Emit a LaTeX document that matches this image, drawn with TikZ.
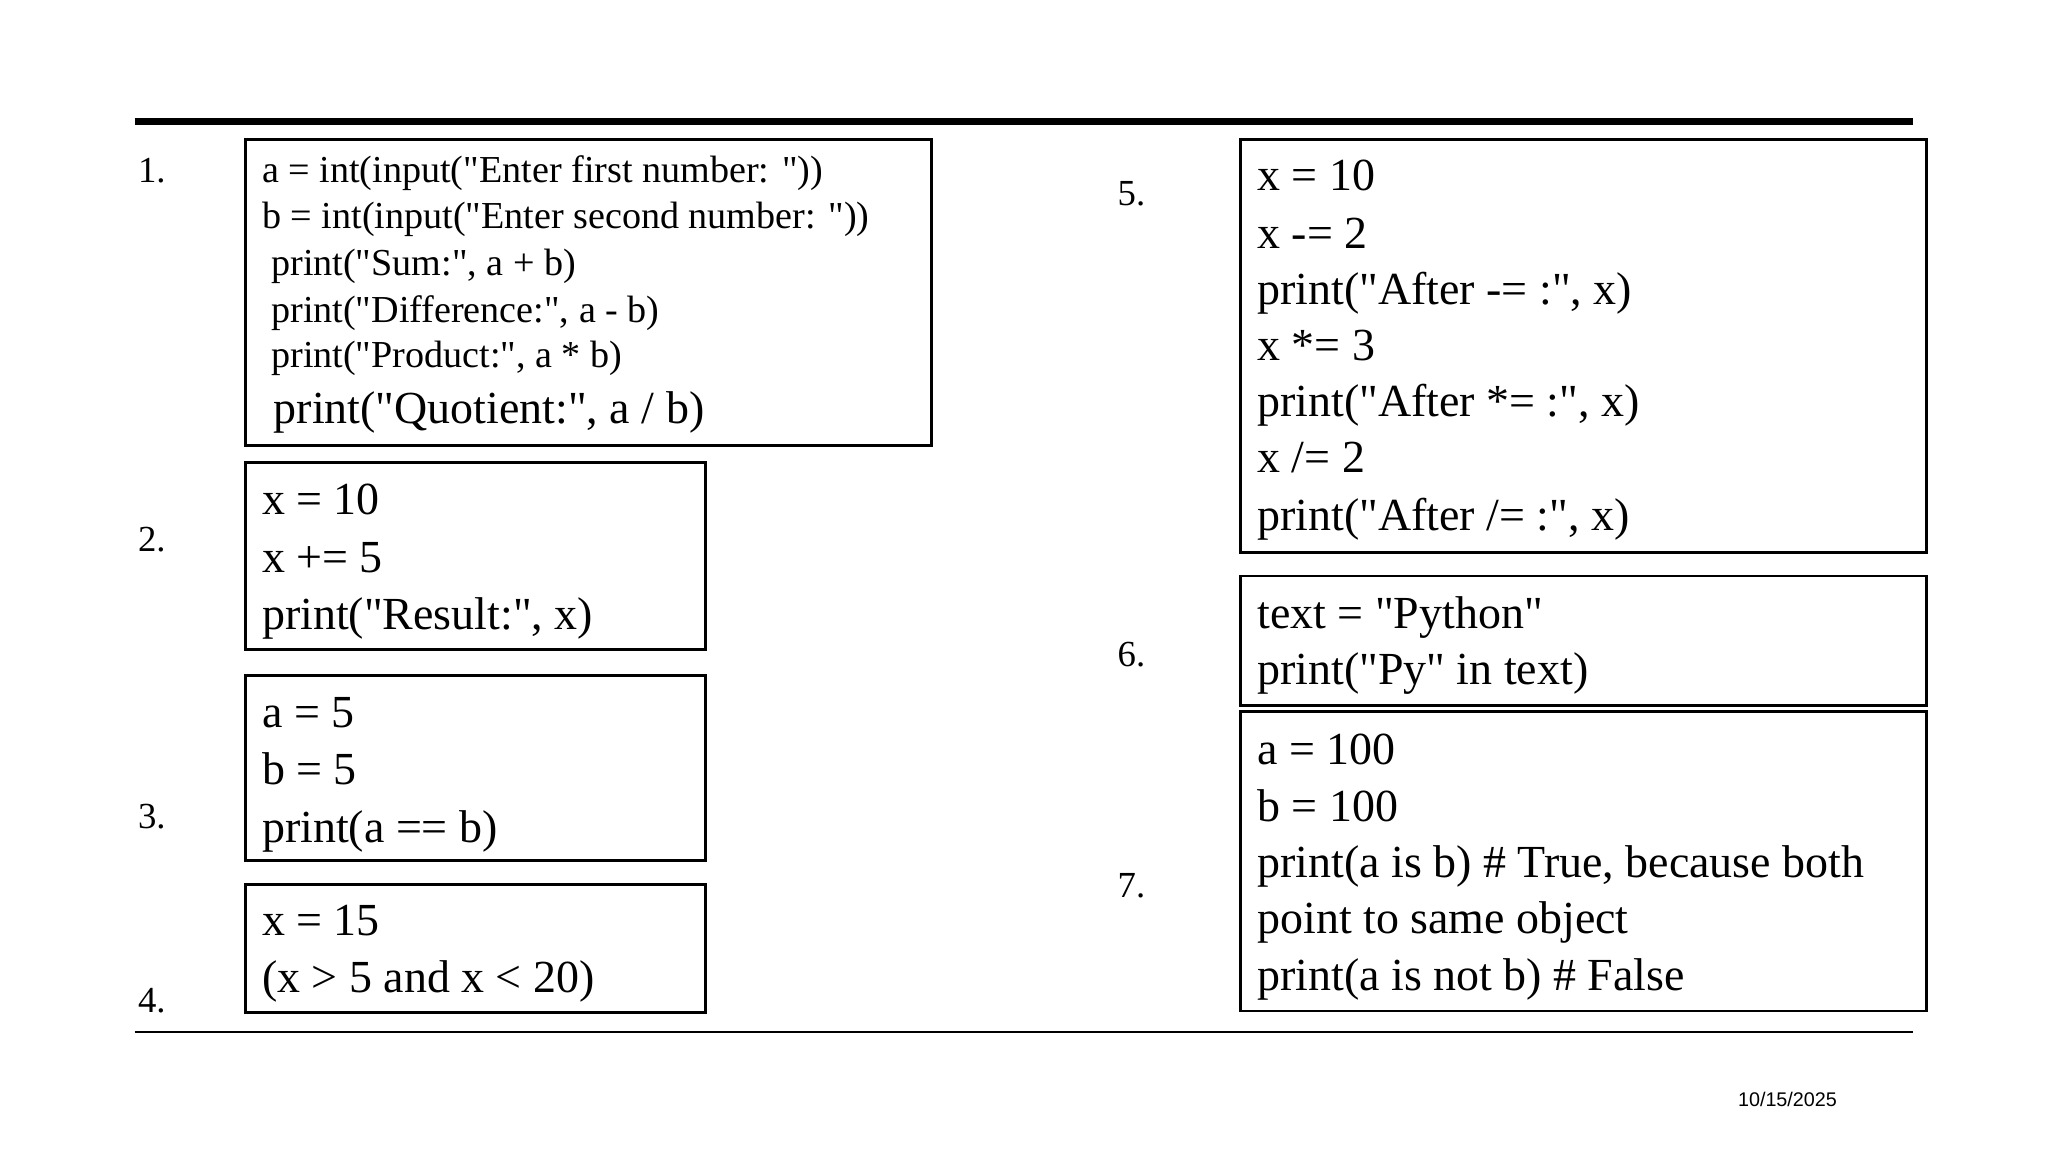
\documentclass[tikz,border=0pt]{standalone}
\usepackage{fontspec}
\setmainfont{Liberation Serif}[Ligatures=TeXOff]
\newfontfamily\datefont{Liberation Sans}
\begin{document}
\begin{tikzpicture}[x=0.01cm,y=-0.01cm,
  box/.style={draw,line width=0.6pt},
  big/.style={anchor=base west,inner sep=0,font=\fontsize{10}{12}\selectfont},
  sml/.style={anchor=base west,inner sep=0,font=\fontsize{8.3}{10}\selectfont},
  num/.style={anchor=base west,inner sep=0,font=\fontsize{8}{10}\selectfont}]
\useasboundingbox (0,0) rectangle (1568,882);
\draw[line width=1.4pt] (103,93) -- (1465,93);
\draw[line width=0.5pt] (103,790) -- (1465,790);
\draw[box] (188,107) rectangle (713,341);
\draw[box] (188,354) rectangle (540,497);
\draw[box] (188,517) rectangle (540,659);
\draw[box] (188,677) rectangle (540,775);
\draw[box] (950,107) rectangle (1475,423);
\draw[box] (950,441) rectangle (1475,540);
\draw[box] (950,545) rectangle (1475,774);
\node[num] (n1) at (105,140) {1.};
\node[num] (n2) at (105,422) {2.};
\node[num] (n3) at (105,634) {3.};
\node[num] (n4) at (105,775) {4.};
\node[num] (n5) at (855,157) {5.};
\node[num] (n6) at (855,510) {6.};
\node[num] (n7) at (855,687) {7.};
\node[sml] (l11) at (200,140) {a = int(input("Enter first number: "))};
\node[sml] (l12) at (200,175) {b = int(input("Enter second number: "))};
\node[sml] (l13) at (207,211) {print("Sum:", a + b)};
\node[sml] (l14) at (207,247) {print("Difference:", a - b)};
\node[sml] (l15) at (207,281) {print("Product:", a * b)};
\node[big] (l16) at (209,324) {print("Quotient:", a / b)};
\node[big] (l21) at (200,394) {x = 10};
\node[big] (l22) at (200,438) {x += 5};
\node[big] (l23) at (200,482) {print("Result:", x)};
\node[big] (l31) at (200,557) {a = 5};
\node[big] (l32) at (200,601) {b = 5};
\node[big] (l33) at (200,645) {print(a == b)};
\node[big] (l41) at (200,716) {x = 15};
\node[big] (l42) at (200,760) {(x > 5 and x < 20)};
\node[big] (l51) at (962,146) {x = 10};
\node[big] (l52) at (962,190) {x -= 2};
\node[big] (l53) at (962,233) {print("After -= :", x)};
\node[big] (l54) at (962,276) {x *= 3};
\node[big] (l55) at (962,319) {print("After *= :", x)};
\node[big] (l56) at (962,362) {x /= 2};
\node[big] (l57) at (962,406) {print("After /= :", x)};
\node[big] (l61) at (962,481) {text = "Python"};
\node[big] (l62) at (962,524) {print("Py" in text)};
\node[big] (l71) at (962,585) {a = 100};
\node[big] (l72) at (962,629) {b = 100};
\node[big] (l73) at (962,672) {print(a is b) \# True, because both};
\node[big] (l74) at (962,715) {point to same object};
\node[big] (l75) at (962,758) {print(a is not b) \# False};
\node[anchor=base west,inner sep=0,font=\datefont\fontsize{4.3}{5}\selectfont] (d) at (1330,847) {10/15/2025};
\end{tikzpicture}
\end{document}
